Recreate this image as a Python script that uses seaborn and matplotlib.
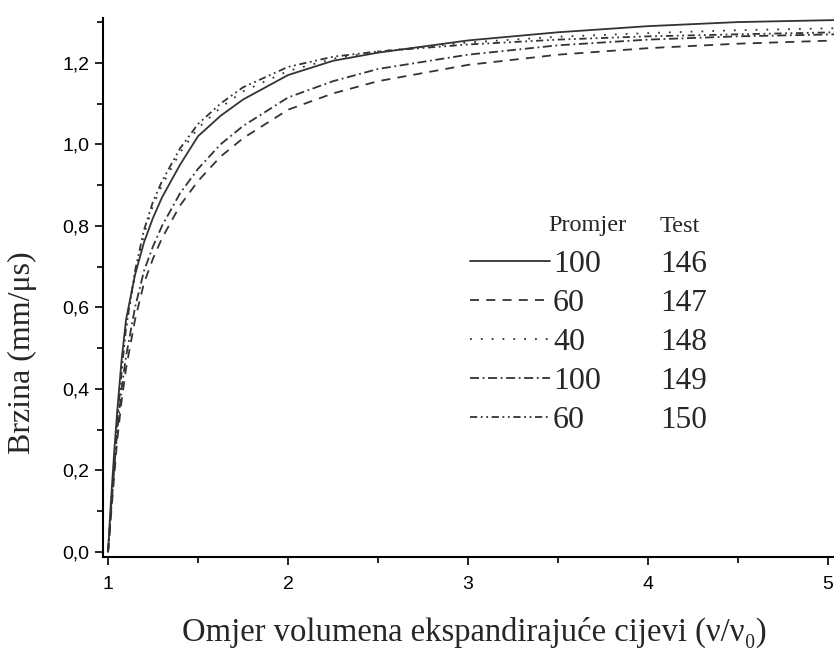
import numpy as np
import pandas as pd
import matplotlib
matplotlib.use("Agg")
import matplotlib.pyplot as plt
import seaborn as sns
from matplotlib.ticker import MultipleLocator, FuncFormatter

# Data
ratio = [1.0, 1.01, 1.02, 1.035, 1.05, 1.075, 1.1, 1.15, 1.2, 1.25, 1.3, 1.4,
         1.5, 1.625, 1.75, 2.0, 2.25, 2.5, 3.0, 3.5, 4.0, 4.5, 5.05]

v_146 = [0.0, 0.08, 0.15, 0.25, 0.34, 0.47, 0.57, 0.68, 0.76, 0.82, 0.87, 0.95,
         1.02, 1.07, 1.11, 1.17, 1.205, 1.225, 1.255, 1.275, 1.29, 1.30, 1.305]
v_147 = [0.0, 0.05, 0.11, 0.19, 0.27, 0.37, 0.45, 0.57, 0.66, 0.72, 0.77, 0.85,
         0.91, 0.97, 1.015, 1.085, 1.125, 1.155, 1.195, 1.22, 1.236, 1.247, 1.255]
v_148 = [0.0, 0.07, 0.14, 0.23, 0.32, 0.45, 0.55, 0.68, 0.78, 0.85, 0.90, 0.98,
         1.04, 1.09, 1.13, 1.18, 1.21, 1.228, 1.25, 1.264, 1.273, 1.28, 1.285]
v_149 = [0.0, 0.06, 0.12, 0.21, 0.29, 0.40, 0.48, 0.60, 0.69, 0.75, 0.80, 0.88,
         0.94, 1.00, 1.045, 1.115, 1.155, 1.185, 1.22, 1.243, 1.257, 1.265, 1.27]
v_150 = [0.0, 0.06, 0.13, 0.22, 0.31, 0.44, 0.55, 0.69, 0.79, 0.86, 0.91, 0.99,
         1.05, 1.10, 1.14, 1.19, 1.215, 1.228, 1.245, 1.257, 1.265, 1.27, 1.275]

tests = ["146", "147", "148", "149", "150"]
diameters = ["100", "60", "40", "100", "60"]
series = [v_146, v_147, v_148, v_149, v_150]

df = pd.concat([pd.DataFrame({"ratio": ratio, "v": s, "test": t})
                for s, t in zip(series, tests)], ignore_index=True)

sns.set_theme(style="ticks")
plt.rcParams['font.family'] = ['Liberation Sans', 'DejaVu Sans']
serif = ['Liberation Serif', 'DejaVu Serif']

dash_styles = {
    "146": "",
    "147": (5, 4),
    "148": (1, 5),
    "149": (5, 2, 1, 2),
    "150": (4, 2, 1, 2, 1, 2),
}

W, H = 834, 649
fig = plt.figure(figsize=(W / 100, H / 100), dpi=100)
ax = fig.add_axes([103 / W, 1 - 557 / H, (W - 103) / W, (557 - 18) / H])

sns.lineplot(data=df, x="ratio", y="v", hue="test", style="test",
             palette=["#333333"] * 5, dashes=dash_styles, sort=False,
             linewidth=1.3, ax=ax, legend=False)

ax.set_xlim(0.972, 5.033)
ax.set_ylim(-0.0123, 1.31)
ax.xaxis.set_major_locator(MultipleLocator(1))
ax.xaxis.set_minor_locator(MultipleLocator(0.5))
ax.yaxis.set_major_locator(MultipleLocator(0.2))
ax.yaxis.set_minor_locator(MultipleLocator(0.1))
ax.yaxis.set_major_formatter(FuncFormatter(lambda v, p: f"{v:.1f}".replace(".", ",")))
ax.xaxis.set_major_formatter(FuncFormatter(lambda v, p: f"{v:.0f}"))
ax.tick_params(which="major", direction="out", length=6, width=1.2, labelsize=14,
               colors="black", pad=4)
ax.tick_params(which="minor", direction="out", length=4, width=1.2, colors="black")
ax.tick_params(axis="x", which="major", pad=8)
ax.tick_params(bottom=True, left=True, which="both")
for side in ["top", "right"]:
    ax.spines[side].set_visible(False)
for side in ["left", "bottom"]:
    ax.spines[side].set_linewidth(1.5)
    ax.spines[side].set_color("black")

ax.set_xlabel("Omjer volumena ekspandirajuće cijevi (ν/ν₀)", family=serif,
              fontsize=23.5, va="center")
ax.xaxis.set_label_coords((474 - 103) / 731, (557 - 632) / 539)
ax.set_ylabel("Brzina (mm/μs)", family=serif, fontsize=23, va="center")
ax.yaxis.set_label_coords((22 - 103) / 731, (557 - 353) / 539)

# legend: line sample + diameter, then test numbers as a second column
handles = [plt.Line2D([], [], color="#333333", linewidth=1.3,
                      linestyle=(0, dash_styles[t]) if dash_styles[t] else "-")
           for t in tests]
leg = ax.legend(handles, diameters, loc="upper left",
                bbox_to_anchor=((470 - 103) / 731, (557 - 250) / 539),
                frameon=False, prop={"family": serif, "size": 23},
                handlelength=2.5, handletextpad=0.1, labelspacing=0.3,
                borderpad=0, borderaxespad=0)

fig.canvas.draw()
inv = ax.transAxes.inverted()
for txt, t in zip(leg.get_texts(), tests):
    bb = txt.get_window_extent()
    yc = inv.transform((0, (bb.y0 + bb.y1) / 2))[1]
    ax.text((660 - 103) / 731, yc, t, transform=ax.transAxes, family=serif,
            fontsize=22.5, ha="left", va="center")

ax.text((548 - 103) / 731, (557 - 226) / 539, "Promjer", transform=ax.transAxes,
        family=serif, fontsize=17.5, ha="left", va="center")
ax.text((660 - 103) / 731, (557 - 226) / 539, "Test", transform=ax.transAxes,
        family=serif, fontsize=17.5, ha="left", va="center")

fig.savefig("out.png", dpi=100)
